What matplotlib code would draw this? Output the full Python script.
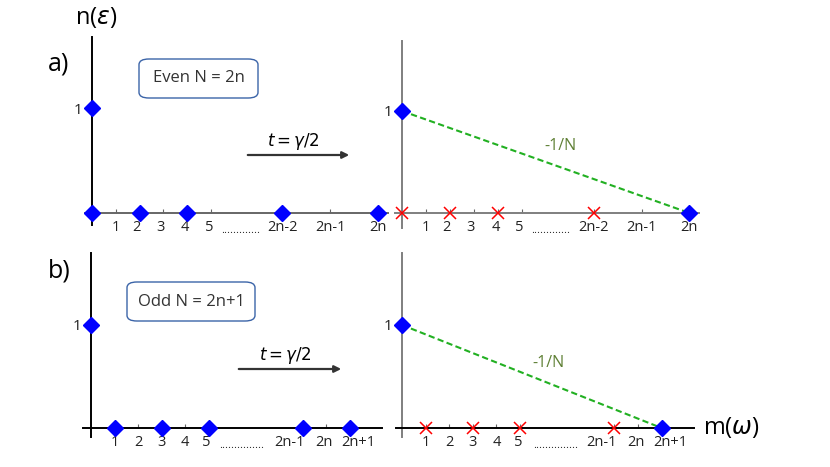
import matplotlib
matplotlib.use("Agg")
import matplotlib.pyplot as plt
from matplotlib.patches import FancyBboxPatch, FancyArrowPatch
from matplotlib.transforms import ScaledTranslation

plt.rcParams['font.family'] = ['Open Sans', 'DejaVu Sans']

# ---------------- data ----------------
# x positions are slot indices along the m / n axis
even_tick_slots = [1, 2, 3, 4, 5, 8, 10, 12]
even_tick_labels = ['1', '2', '3', '4', '5', '2n-2', '2n-1', '2n']
even_before_x = [0, 0, 2, 4, 8, 12]
even_before_y = [1, 0, 0, 0, 0, 0]
even_after_x = [0, 12]
even_after_y = [1, 0]
even_cross_x = [0, 2, 4, 8]
even_cross_y = [0, 0, 0, 0]

odd_tick_slots = [1, 2, 3, 4, 5, 9, 10, 11]
odd_tick_labels = ['1', '2', '3', '4', '5', '2n-1', '2n', '2n+1']
odd_before_x = [0, 1, 3, 5, 9, 11]
odd_before_y = [1, 0, 0, 0, 0, 0]
odd_after_x = [0, 11]
odd_after_y = [1, 0]
odd_cross_x = [1, 3, 5, 9]
odd_cross_y = [0, 0, 0, 0]

slope_label = '-1/N'
W, H = 830, 467

fig = plt.figure(figsize=(W / 100, H / 100), dpi=100)


def make_axes(px_left, px_right, px_top, px_bottom, ox, oy, ux, uy,
              xcol, ycol):
    """Axes whose data origin sits at pixel (ox, oy)."""
    ax = fig.add_axes([px_left / W, (H - px_bottom) / H,
                       (px_right - px_left) / W, (px_bottom - px_top) / H])
    ax.set_xlim((px_left - ox) / ux, (px_right - ox) / ux)
    ax.set_ylim((oy - px_bottom) / uy, (oy - px_top) / uy)
    ax.patch.set_visible(False)
    for s in ['top', 'right']:
        ax.spines[s].set_visible(False)
    ax.spines['left'].set_position(('data', 0))
    ax.spines['bottom'].set_position(('data', 0))
    ax.spines['left'].set_color(ycol)
    ax.spines['bottom'].set_color(xcol)
    ax.spines['left'].set_linewidth(1.4)
    ax.spines['bottom'].set_linewidth(1.4)
    ax.set_yticks([1])
    ax.set_yticklabels(['1'])
    ax.tick_params(axis='y', length=0, pad=7, labelsize=11,
                   labelcolor='#222222')
    ax.tick_params(axis='x', direction='in', length=3, width=0.8,
                   color='#666666', pad=5, labelsize=10.5,
                   labelcolor='#222222')
    ax.set_zorder(2)
    return ax


def decorate(ax, slots, labels, dots_x, ndots, shifts=None):
    ax.set_xticks(slots)
    ax.set_xticklabels(labels)
    if shifts is not None:
        for lab, dx in zip(ax.get_xticklabels(), shifts):
            lab.set_transform(lab.get_transform() +
                              ScaledTranslation(dx / 100, 0,
                                                fig.dpi_scale_trans))
    ax.annotate('.' * ndots, xy=(dots_x, 0), xycoords='data',
                xytext=(0, -20), textcoords='offset pixels',
                ha='center', va='baseline', fontsize=8, color='#222222',
                annotation_clip=False)


odd_label_shift = [0, 0, 0, 0, -2, -13, -2, 9]

# ---- a) left ----
axA1 = make_axes(85, 388, 37, 225, 92, 213, 23.8, 105, '#666666', 'black')
decorate(axA1, even_tick_slots, even_tick_labels, 6.26, 13,
         [0, -3, -3, -2, -2, 0, 0, 0])
axA1.plot(even_before_x, even_before_y, 'D', color='#0000ff', ms=8,
          ls='none', clip_on=False, zorder=5)

# ---- a) right ----
axA2 = make_axes(395, 699, 41, 228, 402, 213, 23.95, 102, '#7f7f7f', '#7f7f7f')
decorate(axA2, even_tick_slots, even_tick_labels, 6.2, 13,
         [0, -3, -3, -2, -2, 0, 0, 0])
axA2.plot(even_after_x, even_after_y, ls=(0, (3, 1.6)), color='#22b022',
          lw=1.5, zorder=3)
axA2.plot(even_cross_x, even_cross_y, 'x', color='#ff0000', ms=9, mew=1.1,
          ls='none', clip_on=False, zorder=5)
axA2.plot(even_after_x, even_after_y, 'D', color='#0000ff', ms=8,
          ls='none', clip_on=False, zorder=6)
axA2.text(6.6, 0.66, slope_label, color='#5f8035', fontsize=11.5,
          ha='center', va='center')

# ---- b) left ----
axB1 = make_axes(83, 382, 253, 437, 91, 428, 23.5, 103, 'black', 'black')
decorate(axB1, odd_tick_slots, odd_tick_labels, 6.4, 15, odd_label_shift)
axB1.plot(odd_before_x, odd_before_y, 'D', color='#0000ff', ms=8,
          ls='none', clip_on=False, zorder=5)

# ---- b) right ----
axB2 = make_axes(396, 694, 253, 437, 402, 428, 23.6, 103, 'black', '#7f7f7f')
decorate(axB2, odd_tick_slots, odd_tick_labels, 6.5, 15, odd_label_shift)
axB2.plot(odd_after_x, odd_after_y, ls=(0, (3, 1.6)), color='#22b022',
          lw=1.5, zorder=3)
axB2.plot(odd_cross_x, odd_cross_y, 'x', color='#ff0000', ms=9, mew=1.1,
          ls='none', clip_on=False, zorder=5)
axB2.plot(odd_after_x, odd_after_y, 'D', color='#0000ff', ms=8,
          ls='none', clip_on=False, zorder=6)
axB2.text(6.2, 0.63, slope_label, color='#5f8035', fontsize=11.5,
          ha='center', va='center')

# ---------------- annotations (figure pixels) ----------------
def fx(px):
    return px / W


def fy(py):
    return 1 - py / H


fig.text(fx(96), fy(18), 'n($\\epsilon$)', fontsize=17, ha='center',
         va='center', color='black')
fig.text(fx(703), fy(427), 'm($\\omega$)', fontsize=17, ha='left',
         va='center', color='black')
fig.text(fx(59), fy(64), 'a)', fontsize=18, ha='center', va='center')
fig.text(fx(59), fy(271), 'b)', fontsize=18, ha='center', va='center')


def box(x0, y0, x1, y1, label):
    p = FancyBboxPatch((fx(x0), fy(y1)), fx(x1) - fx(x0), fy(y0) - fy(y1),
                       boxstyle='round,pad=0,rounding_size=0.012',
                       transform=fig.transFigure, fc='white',
                       ec='#3b64a8', lw=1.0)
    fig.add_artist(p)
    fig.text(fx((x0 + x1) / 2), fy((y0 + y1) / 2), label, fontsize=12,
             ha='center', va='center', color='#333333')


box(139, 59, 258, 98, 'Even N = 2n')
box(127, 282, 255, 321, 'Odd N = 2n+1')


def arrow(x0, x1, y, tx, ty):
    fig.add_artist(FancyArrowPatch(
        (fx(x0), fy(y)), (fx(x1), fy(y)), transform=fig.transFigure,
        arrowstyle='-|>,head_length=4,head_width=2', mutation_scale=1,
        lw=1.6, color='#333333'))
    fig.text(fx(tx), fy(ty), '$t = \\gamma/2$', fontsize=12, ha='center',
             va='center', color='black')


arrow(245, 352, 155, 293, 141)
arrow(236, 344, 369, 285, 355)

fig.savefig('out.png', dpi=100)
